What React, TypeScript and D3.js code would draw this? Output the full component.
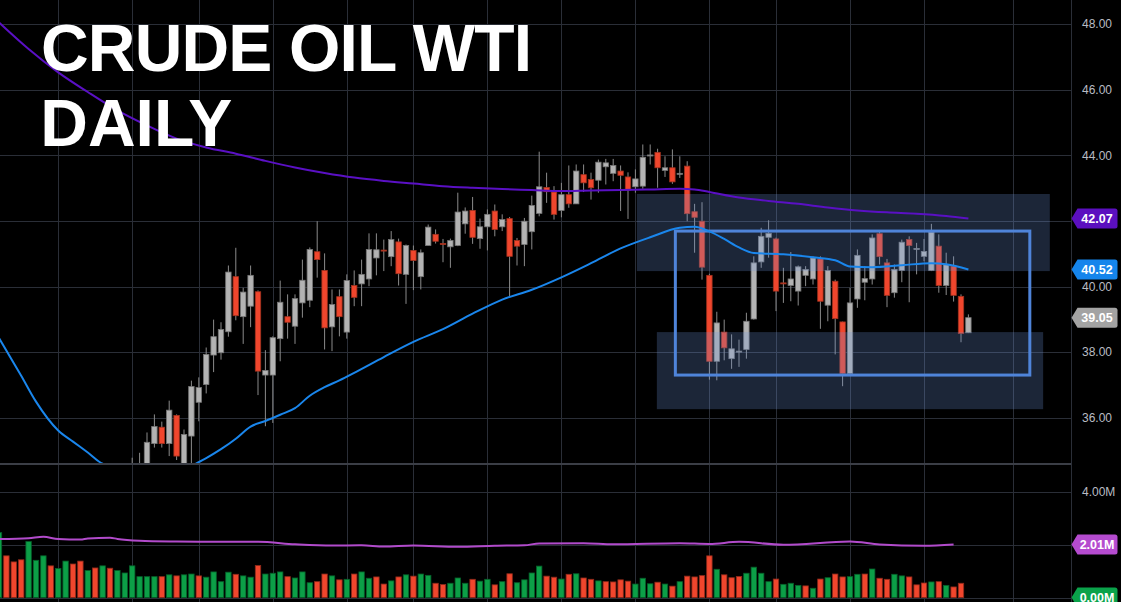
import { useEffect, useRef } from 'react';
import * as d3 from 'd3';

// price candles start at bar 18, earlier bars sit below the visible price range
const firstCandle = 18;

const opens = [
  34.0, 34.3, 34.4, 35.21, 35.71, 35.21, 36.07, 34.4, 35.44, 36.47,
  37.01, 37.91, 37.98, 38.62, 40.30, 39.08, 39.40, 39.84, 37.30, 37.30,
  38.41, 39.08, 38.79, 39.50, 39.58, 41.06, 40.49, 38.77, 39.69, 38.61,
  40.03, 40.08, 40.23, 40.87, 41.11, 40.91, 41.36, 40.37, 41.10, 40.30,
  41.25, 41.59, 41.31, 41.21, 41.25, 41.91, 42.32, 41.46, 41.82, 42.30,
  41.82, 42.07, 41.40, 41.28, 41.67, 42.23, 43.02, 42.88, 42.32, 42.80,
  42.52, 43.41, 43.26, 43.24, 43.65, 43.45, 43.52, 43.34, 43.04, 43.06,
  43.98, 44.09, 43.54, 43.62, 43.42, 43.67, 42.28, 41.99, 40.34, 37.72,
  38.61, 37.80, 38.01, 38.08, 39.01, 40.75, 41.50, 41.45, 40.11, 40.03,
  39.86, 40.34, 40.23, 40.84, 39.43, 40.16, 38.92, 37.35, 39.62, 40.13,
  40.23, 41.61, 40.72, 39.81, 40.49, 41.43, 41.13, 40.92, 40.49, 41.23,
  40.03, 40.62, 39.70, 38.59,
];
const highs = [
  34.78, 34.93, 35.55, 36.10, 35.88, 36.52, 36.10, 35.64, 37.13, 37.23,
  38.14, 38.99, 38.91, 40.64, 41.18, 39.96, 40.64, 39.88, 38.06, 38.48,
  40.18, 39.76, 39.76, 40.82, 41.19, 41.99, 41.01, 39.91, 39.91, 40.37,
  40.49, 40.82, 41.62, 41.62, 41.43, 41.69, 41.46, 41.28, 41.25, 41.13,
  41.89, 41.74, 41.45, 41.46, 42.86, 42.41, 42.73, 42.07, 42.35, 42.50,
  42.20, 42.12, 41.48, 42.09, 42.77, 44.11, 43.47, 43.06, 43.16, 43.69,
  43.72, 43.72, 43.47, 43.87, 43.89, 43.89, 43.69, 43.48, 43.57, 44.33,
  44.33, 44.20, 43.97, 44.18, 43.97, 43.82, 42.52, 42.57, 40.39, 39.23,
  38.99, 38.54, 38.38, 39.20, 40.92, 41.79, 42.02, 41.49, 40.57, 41.05,
  40.64, 40.62, 40.92, 40.92, 40.62, 40.21, 38.93, 39.96, 41.13, 40.62,
  41.59, 41.66, 40.84, 40.67, 41.43, 41.53, 41.33, 41.45, 41.91, 41.59,
  41.03, 40.92, 39.76, 39.15,
];
const lows = [
  33.6, 33.9, 34.2, 35.09, 35.09, 34.83, 34.71, 34.2, 34.55, 35.89,
  36.74, 37.39, 37.77, 38.47, 38.97, 38.25, 38.76, 36.69, 35.74, 35.84,
  37.72, 38.41, 38.25, 39.05, 39.37, 40.27, 38.08, 38.03, 38.48, 38.41,
  39.40, 39.40, 40.01, 40.34, 40.47, 40.62, 40.03, 39.47, 39.89, 39.91,
  41.25, 41.31, 40.74, 40.57, 41.23, 41.61, 41.30, 41.15, 41.10, 41.53,
  41.69, 39.70, 40.64, 40.62, 41.13, 42.14, 42.55, 42.04, 42.11, 42.40,
  42.52, 42.88, 42.65, 42.86, 43.11, 43.21, 42.30, 42.06, 42.86, 42.98,
  43.72, 43.01, 43.34, 43.13, 43.31, 41.99, 41.03, 40.21, 37.16, 37.14,
  37.75, 37.49, 37.55, 37.80, 38.99, 40.57, 40.88, 39.25, 39.50, 39.55,
  39.42, 40.01, 40.06, 38.71, 38.94, 37.93, 36.96, 37.29, 39.35, 39.58,
  40.06, 40.67, 39.37, 39.66, 40.13, 39.52, 40.37, 40.77, 40.47, 39.81,
  39.74, 39.54, 38.30, 38.58,
];
const closes = [
  34.3, 34.5, 35.25, 35.73, 35.21, 36.23, 34.83, 35.49, 36.95, 36.92,
  37.93, 38.47, 38.69, 40.44, 39.11, 39.83, 40.34, 37.42, 37.44, 38.44,
  39.52, 38.91, 39.63, 40.19, 41.13, 40.82, 38.74, 39.45, 39.08, 40.18,
  39.67, 40.37, 41.13, 41.12, 41.08, 41.43, 40.39, 41.25, 40.79, 41.03,
  41.81, 41.38, 41.29, 41.40, 42.27, 42.30, 41.50, 41.82, 42.20, 41.74,
  42.04, 40.92, 41.23, 41.99, 42.47, 43.04, 42.89, 42.20, 42.80, 42.52,
  43.52, 43.16, 43.01, 43.79, 43.77, 43.69, 43.39, 42.94, 43.28, 43.94,
  44.01, 43.62, 43.62, 43.19, 43.45, 42.22, 42.11, 40.59, 37.72, 38.89,
  38.13, 38.10, 38.03, 38.94, 40.72, 41.53, 41.62, 39.86, 40.08, 40.23,
  40.60, 40.52, 40.87, 39.55, 40.49, 39.02, 37.35, 39.50, 40.95, 40.24,
  41.48, 40.91, 39.73, 40.52, 41.35, 41.25, 41.16, 41.07, 41.66, 40.03,
  40.66, 39.73, 38.57, 39.05,
];

// volume in millions, from bar 0; 1 = green bar, 0 = red bar
const volumes = [
  2.46, 1.58, 1.35, 1.43, 2.12, 1.41, 1.58, 1.20, 1.10, 1.38,
  1.27, 1.38, 1.02, 1.12, 1.20, 1.11, 1.02, 0.93, 1.20, 0.79,
  0.79, 0.79, 0.79, 0.86, 0.82, 0.86, 0.89, 0.82, 0.77, 0.97,
  0.60, 0.96, 0.88, 0.82, 0.77, 1.21, 0.89, 0.92, 0.97, 0.79,
  0.74, 0.97, 0.56, 0.60, 0.89, 0.82, 0.67, 0.69, 0.89, 0.97,
  0.73, 0.78, 0.51, 0.63, 0.78, 0.86, 0.81, 0.89, 0.84, 0.54,
  0.49, 0.54, 0.74, 0.54, 0.69, 0.62, 0.69, 0.48, 0.60, 0.90,
  0.56, 0.67, 0.93, 1.19, 0.81, 0.77, 0.70, 0.88, 0.90, 0.74,
  0.69, 0.63, 0.60, 0.59, 0.67, 0.62, 0.51, 0.73, 0.52, 0.58,
  0.51, 0.43, 0.60, 0.81, 0.78, 0.83, 1.58, 1.07, 0.86, 0.75,
  0.80, 0.92, 1.15, 0.92, 0.60, 0.70, 0.50, 0.54, 0.46, 0.44,
  0.35, 0.70, 0.75, 0.89, 0.78, 0.79, 0.88, 0.89, 1.08, 0.73,
  0.69, 0.88, 0.82, 0.78, 0.48, 0.55, 0.59, 0.60, 0.46, 0.40,
  0.54,
];
const volumeUp = [
  1, 0, 0, 0, 1, 1, 1, 0, 1, 1,
  0, 0, 1, 0, 1, 0, 1, 1, 1, 1,
  1, 1, 0, 1, 0, 1, 1, 0, 1, 1,
  1, 1, 0, 1, 1, 0, 1, 1, 1, 0,
  1, 1, 1, 0, 0, 1, 0, 1, 0, 1,
  1, 0, 0, 1, 0, 1, 0, 1, 1, 0,
  0, 1, 1, 1, 0, 1, 1, 0, 1, 0,
  1, 1, 1, 1, 0, 0, 1, 0, 1, 0,
  0, 1, 0, 0, 0, 0, 1, 1, 1, 0,
  1, 0, 1, 0, 0, 0, 0, 1, 0, 0,
  0, 1, 1, 1, 1, 0, 1, 1, 1, 0,
  1, 0, 1, 0, 0, 1, 1, 0, 1, 0,
  0, 1, 1, 0, 0, 0, 1, 0, 1, 0,
  0,
];

// moving averages: bar index and value
const ma50Bars = [0, 3, 5, 8, 10, 12, 14, 17, 21, 25, 28, 30, 32, 34, 36, 38, 40, 42, 44, 46, 48, 52, 56, 60, 64, 68, 72, 76, 80, 84, 88, 92, 94, 96, 98, 100, 102, 106, 110, 113, 115, 118, 122, 126, 128, 131];
const ma50Values = [38.43, 37.28, 36.49, 35.61, 35.27, 34.94, 34.60, 34.45, 34.35, 34.45, 34.77, 35.04, 35.36, 35.73, 35.90, 36.09, 36.29, 36.67, 36.93, 37.14, 37.37, 37.85, 38.31, 38.70, 39.17, 39.60, 39.90, 40.28, 40.71, 41.16, 41.50, 41.79, 41.82, 41.68, 41.45, 41.19, 41.02, 40.98, 40.89, 40.80, 40.61, 40.59, 40.65, 40.71, 40.68, 40.52];

const ma200Bars = [0, 4, 8, 12, 16, 20, 24, 28, 32, 36, 40, 44, 48, 52, 56, 60, 64, 68, 72, 76, 80, 84, 88, 92, 94, 96, 100, 104, 108, 112, 116, 120, 124, 128, 131];
const ma200Values = [48.05, 47.24, 46.53, 45.93, 45.37, 44.91, 44.51, 44.24, 44.05, 43.83, 43.63, 43.46, 43.32, 43.22, 43.14, 43.06, 43.01, 42.97, 42.94, 42.91, 42.93, 42.94, 42.96, 42.98, 42.96, 42.88, 42.71, 42.61, 42.52, 42.41, 42.32, 42.26, 42.22, 42.15, 42.07];

const volMaBars = [0, 4, 6, 8, 11, 12, 15, 16, 19, 24, 28, 35, 40, 45, 49, 52, 56, 62, 67, 71, 73, 79, 83, 92, 96, 100, 106, 115, 119, 125, 129];
const volMaValues = [2.22, 2.25, 2.30, 2.22, 2.20, 2.24, 2.27, 2.22, 2.15, 2.12, 2.11, 2.11, 2.02, 1.97, 1.98, 1.93, 1.97, 1.92, 1.96, 1.98, 2.05, 2.06, 2.02, 2.06, 2.03, 2.11, 2.00, 2.12, 2.01, 1.96, 2.01];

const priceTicks = [48, 46, 44, 42, 40, 38, 36];
const priceLabels = ['48.00', '46.00', '44.00', '', '40.00', '38.00', '36.00'];
const volumeTicks = [4, 2, 0];
const gridBars = [8, 18, 27, 37, 47, 56, 66, 76, 86, 96, 105, 115, 125, 137];

// drawn zones: bar range and price range
const zoneBars = [[86.2, 142.0], [88.9, 141.1]];
const zonePrices = [[42.82, 40.47], [38.61, 36.26]];
const rangeBars = [91.4, 139.3];
const rangePrices = [41.69, 37.30];

export default function App() {
  const ref = useRef<SVGSVGElement>(null);

  useEffect(() => {
    if (!ref.current) return;
    const svg = d3.select(ref.current);
    svg.selectAll('*').remove();

    const width = 1121;
    const height = 602;
    const axisX = 1071.5;
    const priceBottom = 463;
    const volTop = 466;

    const x = d3.scaleLinear().domain([0, 131]).range([-1, 968.4]);
    const y = d3.scaleLinear().domain([36, 48]).range([417.7, 24.1]);
    const yv = d3.scaleLinear().domain([0, 4]).range([597.5, 492]);

    svg.append('rect').attr('width', width).attr('height', height).attr('fill', '#000');

    const defs = svg.append('defs');
    defs.append('clipPath').attr('id', 'clip-price')
      .append('rect').attr('x', 0).attr('y', 0).attr('width', axisX).attr('height', priceBottom);
    defs.append('clipPath').attr('id', 'clip-vol')
      .append('rect').attr('x', 0).attr('y', volTop).attr('width', axisX).attr('height', height - volTop);

    // Grid
    const grid = svg.append('g').attr('stroke', '#2a2e37').attr('stroke-width', 1);
    priceTicks.forEach(t => {
      const yy = Math.round(y(t)) + 0.5;
      grid.append('line').attr('x1', 0).attr('x2', axisX).attr('y1', yy).attr('y2', yy);
    });
    volumeTicks.forEach(t => {
      const yy = Math.round(yv(t)) + 0.5;
      grid.append('line').attr('x1', 0).attr('x2', axisX).attr('y1', yy).attr('y2', yy);
    });
    gridBars.forEach(b => {
      const xx = Math.round(x(b)) + 0.5;
      grid.append('line').attr('x1', xx).attr('x2', xx).attr('y1', 0).attr('y2', height);
    });

    // Pane separator and axis border
    svg.append('line').attr('x1', 0).attr('x2', axisX).attr('y1', 464).attr('y2', 464)
      .attr('stroke', '#3b3e46').attr('stroke-width', 2);
    svg.append('line').attr('x1', axisX).attr('x2', axisX).attr('y1', 0).attr('y2', height)
      .attr('stroke', '#2a2e37').attr('stroke-width', 1);

    // Candles
    const candles = d3.range(opens.length).map(k => ({
      i: k + firstCandle, o: opens[k], h: highs[k], l: lows[k], c: closes[k],
    }));
    const price = svg.append('g').attr('clip-path', 'url(#clip-price)');
    const bw = 5.4;

    price.selectAll('.wick')
      .data(candles)
      .enter()
      .append('line')
      .attr('x1', d => x(d.i)).attr('x2', d => x(d.i))
      .attr('y1', d => y(d.h)).attr('y2', d => y(d.l))
      .attr('stroke', '#8a8a8a').attr('stroke-width', 1);

    price.selectAll('.body')
      .data(candles)
      .enter()
      .append('rect')
      .attr('x', d => x(d.i) - bw / 2)
      .attr('y', d => y(Math.max(d.o, d.c)))
      .attr('width', bw)
      .attr('height', d => Math.max(1, Math.abs(y(d.o) - y(d.c))))
      .attr('fill', d => d.c >= d.o ? '#b3b3b3' : '#f0462d')
      .attr('stroke', d => d.c >= d.o ? '#777' : '#a3321f')
      .attr('stroke-width', 0.8);

    // Shaded zones and range outline
    zoneBars.forEach((b, k) => {
      price.append('rect')
        .attr('x', x(b[0])).attr('width', x(b[1]) - x(b[0]))
        .attr('y', y(zonePrices[k][0])).attr('height', y(zonePrices[k][1]) - y(zonePrices[k][0]))
        .attr('fill', 'rgba(110,150,222,0.25)');
    });
    price.append('rect')
      .attr('x', x(rangeBars[0])).attr('width', x(rangeBars[1]) - x(rangeBars[0]))
      .attr('y', y(rangePrices[0])).attr('height', y(rangePrices[1]) - y(rangePrices[0]))
      .attr('fill', 'none').attr('stroke', '#4f84d9').attr('stroke-width', 3);

    // Moving averages
    const ma200Line = d3.line<number>()
      .x((_, k) => x(ma200Bars[k]))
      .y(d => y(d))
      .curve(d3.curveMonotoneX);
    price.append('path').datum(ma200Values)
      .attr('fill', 'none').attr('stroke', '#5a10c4').attr('stroke-width', 2).attr('d', ma200Line);

    const ma50Line = d3.line<number>()
      .x((_, k) => x(ma50Bars[k]))
      .y(d => y(d))
      .curve(d3.curveMonotoneX);
    price.append('path').datum(ma50Values)
      .attr('fill', 'none').attr('stroke', '#1a86ec').attr('stroke-width', 2).attr('d', ma50Line);

    // Volume
    const vol = svg.append('g').attr('clip-path', 'url(#clip-vol)');
    vol.selectAll('.vbar')
      .data(volumes)
      .enter()
      .append('rect')
      .attr('x', (_, k) => x(k) - bw / 2)
      .attr('y', d => yv(d))
      .attr('width', bw)
      .attr('height', d => yv(0) - yv(d))
      .attr('fill', (_, k) => volumeUp[k] ? '#0c9f47' : '#f0462d')
      .attr('stroke', (_, k) => volumeUp[k] ? '#06602a' : '#8f2a1b')
      .attr('stroke-width', 0.8);

    const volMaLine = d3.line<number>()
      .x((_, k) => x(volMaBars[k]))
      .y(d => yv(d))
      .curve(d3.curveMonotoneX);
    vol.append('path').datum(volMaValues)
      .attr('fill', 'none').attr('stroke', '#b24bcb').attr('stroke-width', 2).attr('d', volMaLine);

    // Right axis labels
    const labels = svg.append('g')
      .attr('font-family', '"Liberation Sans", Arial, sans-serif')
      .attr('font-size', 12)
      .attr('fill', '#b9bcc3');
    priceTicks.forEach((t, k) => {
      labels.append('text').attr('x', 1082).attr('y', y(t)).attr('dy', '0.35em').text(priceLabels[k]);
    });
    labels.append('text').attr('x', 1082).attr('y', yv(4)).attr('dy', '0.35em').text('4.00M');

    const tag = (cy: number, label: string, color: string) => {
      const g = svg.append('g');
      g.append('path')
        .attr('d', `M${axisX} ${cy} L${axisX + 6} ${cy - 10} H1115 Q1117.5 ${cy - 10} 1117.5 ${cy - 7.5} V${cy + 7.5} Q1117.5 ${cy + 10} 1115 ${cy + 10} H${axisX + 6} Z`)
        .attr('fill', color);
      g.append('text')
        .attr('x', 1097).attr('y', cy).attr('dy', '0.36em')
        .attr('text-anchor', 'middle')
        .attr('font-family', '"Liberation Sans", Arial, sans-serif')
        .attr('font-size', 12.5).attr('font-weight', 'bold')
        .attr('fill', '#fff')
        .text(label);
    };
    const lastMa200 = ma200Values[ma200Values.length - 1];
    const lastMa50 = ma50Values[ma50Values.length - 1];
    const lastClose = closes[closes.length - 1];
    const lastVolMa = volMaValues[volMaValues.length - 1];
    tag(y(lastMa200), lastMa200.toFixed(2), '#5b0fbf');
    tag(y(lastMa50), lastMa50.toFixed(2), '#1585ec');
    tag(y(lastClose), lastClose.toFixed(2), '#a3a3a3');
    tag(yv(lastVolMa), lastVolMa.toFixed(2) + 'M', '#b54bcf');
    tag(yv(0), '0.00M', '#0aa24a');

    // Title
    const title = svg.append('g')
      .attr('font-family', '"Liberation Sans", Arial, sans-serif')
      .attr('font-weight', 'bold')
      .attr('font-size', 66)
      .attr('fill', '#fff');
    title.append('text').attr('x', 41).attr('y', 70.7)
      .attr('textLength', 491).attr('lengthAdjust', 'spacing').text('CRUDE OIL WTI');
    title.append('text').attr('x', 40.2).attr('y', 145.7)
      .attr('textLength', 192).attr('lengthAdjust', 'spacing').text('DAILY');
  }, []);

  return (
    <>
      <style>{'body{margin:0;background:#000;overflow:hidden}'}</style>
      <svg ref={ref} width={1121} height={602} style={{ display: 'block' }} />
    </>
  );
}
